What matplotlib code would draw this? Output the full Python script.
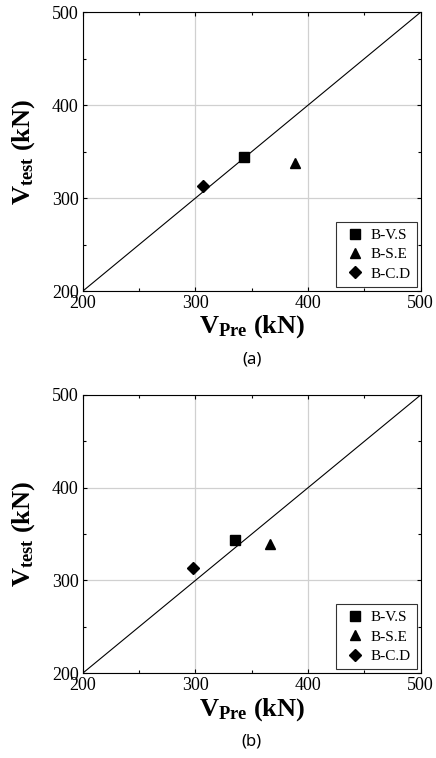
import numpy as np
import matplotlib
matplotlib.use('Agg')
import matplotlib.pyplot as plt
from matplotlib.ticker import MultipleLocator

plt.rcParams['font.family'] = 'Liberation Serif'
plt.rcParams['mathtext.fontset'] = 'custom'
plt.rcParams['mathtext.rm'] = 'Liberation Serif'
plt.rcParams['mathtext.bf'] = 'Liberation Serif:bold'
plt.rcParams['mathtext.it'] = 'Liberation Serif:italic'

labels = ['B-V.S', 'B-S.E', 'B-C.D']
markers = ['s', '^', 'D']
msizes = [6.5, 7.2, 6.6]
# (a)
pre_a = [343, 388, 307]
test_a = [344, 338, 313]
# (b)
pre_b = [335, 366, 298]
test_b = [344, 339, 313]
captions = ['(a)', '(b)']

fig = plt.figure(figsize=(4.36, 7.58), dpi=100)
axes = [fig.add_axes([0.19, 0.616, 0.775, 0.368]),
        fig.add_axes([0.19, 0.112, 0.775, 0.367])]

for ax, pre, test, cap in zip(axes, [pre_a, pre_b], [test_a, test_b], captions):
    ax.plot([200, 500], [200, 500], color='black', lw=0.8, zorder=2)
    for x, y, m, ms, lab in zip(pre, test, markers, msizes, labels):
        ax.plot(x, y, marker=m, color='black', ls='none', ms=ms, label=lab, zorder=3)
    ax.set_xlim(200, 500)
    ax.set_ylim(200, 500)
    ax.xaxis.set_major_locator(MultipleLocator(100))
    ax.yaxis.set_major_locator(MultipleLocator(100))
    ax.xaxis.set_minor_locator(MultipleLocator(50))
    ax.yaxis.set_minor_locator(MultipleLocator(50))
    ax.grid(True, which='major', color='#d0d0d0', lw=0.9, zorder=0)
    ax.tick_params(which='both', direction='in', top=True, right=True,
                   labelsize=13, width=0.8)
    ax.tick_params(which='major', length=3, pad=3)
    ax.tick_params(which='minor', length=2)
    for s in ax.spines.values():
        s.set_linewidth(0.8)
    ax.set_xlabel(r'$\mathbf{V_{Pre}}$ (kN)', fontsize=19, fontweight='bold', labelpad=1)
    ax.set_ylabel(r'$\mathbf{V_{test}}$ (kN)', fontsize=19, fontweight='bold', labelpad=11)
    leg = ax.legend(loc='lower right', fontsize=11, frameon=True, fancybox=False,
                    edgecolor='black', borderaxespad=0.25, handletextpad=0.2,
                    handlelength=1.6, labelspacing=0.37, borderpad=0.42)
    leg.get_frame().set_linewidth(0.8)
    ax.text(0.5, -0.245, cap, transform=ax.transAxes, ha='center', va='center',
            fontsize=12, family='Noto Sans')

fig.savefig('out.png', dpi=100)
